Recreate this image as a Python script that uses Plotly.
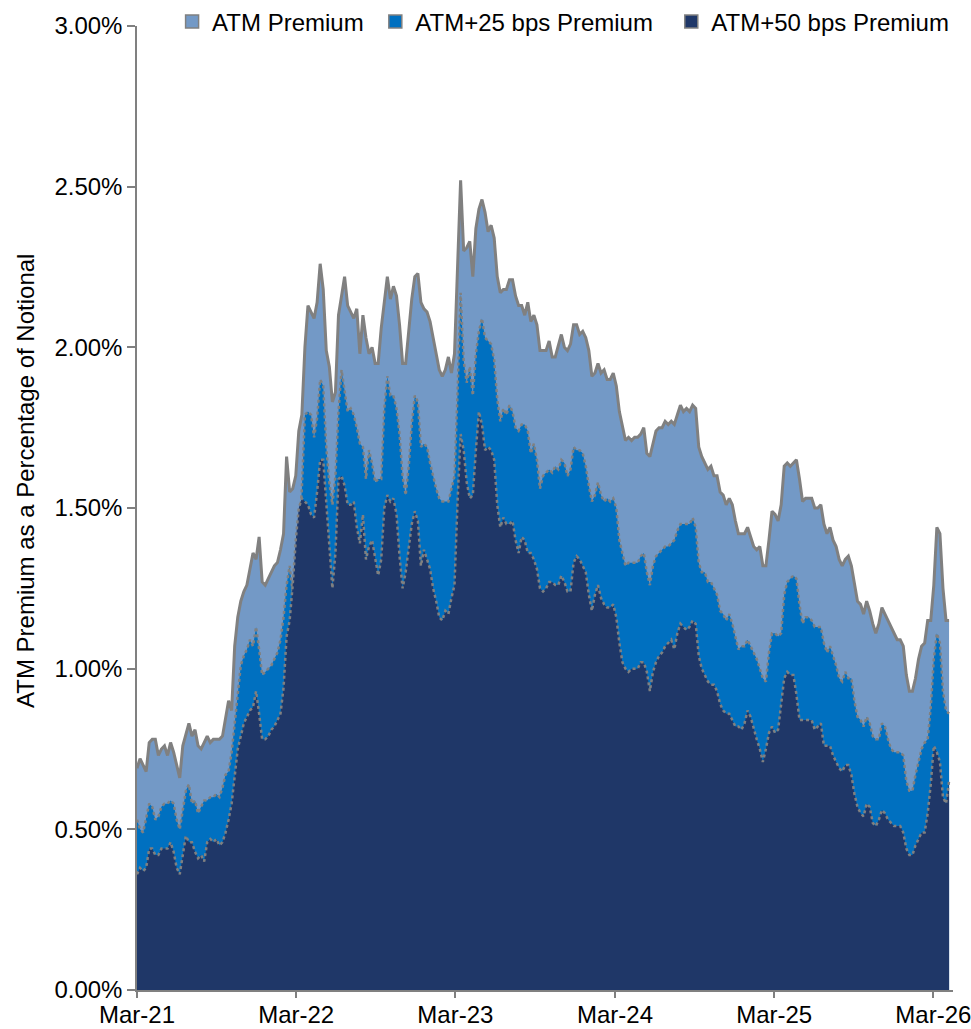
import pandas as pd
import plotly.graph_objects as go

# Weekly observation dates
dates = pd.date_range("2021-03-01", periods=267, freq="7D")

# Premium as % of notional
atm_premium = [
    0.69, 0.72, 0.70, 0.68, 0.77, 0.78, 0.78, 0.73, 0.75, 0.76,
    0.73, 0.77, 0.74, 0.70, 0.66, 0.76, 0.80, 0.83, 0.79, 0.81,
    0.76, 0.75, 0.77, 0.79, 0.77, 0.78, 0.78, 0.78, 0.79, 0.85,
    0.90, 0.87, 1.07, 1.16, 1.21, 1.24, 1.26, 1.31, 1.36, 1.34,
    1.41, 1.27, 1.26, 1.28, 1.30, 1.32, 1.33, 1.37, 1.42, 1.66,
    1.55, 1.56, 1.60, 1.74, 1.79, 2.00, 2.13, 2.11, 2.09, 2.14,
    2.26, 2.18, 1.99, 1.94, 1.83, 1.86, 2.10, 2.16, 2.22, 2.13,
    2.11, 2.09, 2.12, 1.98, 2.10, 2.03, 1.98, 2.00, 1.95, 1.95,
    2.06, 2.15, 2.22, 2.15, 2.19, 2.16, 2.07, 1.95, 1.95, 2.05,
    2.15, 2.22, 2.23, 2.14, 2.12, 2.11, 2.08, 2.03, 1.98, 1.93,
    1.91, 1.93, 1.97, 1.92, 1.98, 2.25, 2.52, 2.30, 2.31, 2.33,
    2.22, 2.37, 2.43, 2.46, 2.42, 2.36, 2.38, 2.34, 2.22, 2.17,
    2.18, 2.18, 2.21, 2.21, 2.16, 2.13, 2.13, 2.10, 2.14, 2.08,
    2.10, 2.07, 1.99, 1.99, 1.99, 2.02, 1.97, 1.97, 2.01, 2.04,
    2.00, 1.99, 2.01, 2.07, 2.07, 2.04, 2.05, 2.03, 1.99, 1.91,
    1.92, 1.95, 1.92, 1.93, 1.90, 1.90, 1.92, 1.88, 1.80, 1.75,
    1.71, 1.72, 1.71, 1.72, 1.72, 1.73, 1.75, 1.67, 1.66, 1.70,
    1.74, 1.75, 1.75, 1.77, 1.76, 1.77, 1.76, 1.79, 1.82, 1.80,
    1.81, 1.80, 1.82, 1.81, 1.69, 1.66, 1.64, 1.62, 1.63, 1.60,
    1.60, 1.55, 1.54, 1.51, 1.53, 1.51, 1.46, 1.42, 1.42, 1.42,
    1.44, 1.41, 1.38, 1.37, 1.38, 1.32, 1.32, 1.40, 1.49, 1.48,
    1.46, 1.51, 1.63, 1.64, 1.63, 1.64, 1.65, 1.59, 1.52, 1.53,
    1.53, 1.53, 1.50, 1.50, 1.51, 1.45, 1.42, 1.44, 1.40, 1.38,
    1.34, 1.32, 1.34, 1.35, 1.32, 1.26, 1.21, 1.20, 1.17, 1.21,
    1.18, 1.14, 1.11, 1.14, 1.19, 1.17, 1.15, 1.13, 1.11, 1.09,
    1.09, 1.07, 0.98, 0.93, 0.93, 0.97, 1.03, 1.07, 1.08, 1.15,
    1.15, 1.26, 1.44, 1.42, 1.25, 1.15, 1.15,
]

atm_25_premium = [
    0.53, 0.50, 0.49, 0.53, 0.58, 0.57, 0.53, 0.54, 0.57, 0.58,
    0.58, 0.59, 0.58, 0.53, 0.50, 0.56, 0.62, 0.64, 0.58, 0.59,
    0.55, 0.57, 0.59, 0.59, 0.60, 0.60, 0.61, 0.60, 0.63, 0.67,
    0.68, 0.74, 0.82, 0.92, 1.01, 1.04, 1.06, 1.09, 1.07, 1.13,
    1.06, 0.98, 0.99, 1.00, 1.01, 1.03, 1.05, 1.09, 1.16, 1.26,
    1.32, 1.24, 1.29, 1.40, 1.56, 1.79, 1.80, 1.79, 1.72, 1.78,
    1.90, 1.88, 1.69, 1.58, 1.51, 1.60, 1.80, 1.93, 1.87, 1.80,
    1.81, 1.79, 1.75, 1.70, 1.69, 1.59, 1.68, 1.64, 1.58, 1.59,
    1.59, 1.81, 1.91, 1.85, 1.85, 1.81, 1.73, 1.60, 1.54, 1.63,
    1.76, 1.85, 1.83, 1.69, 1.70, 1.69, 1.64, 1.60, 1.56, 1.53,
    1.52, 1.52, 1.52, 1.56, 1.60, 1.86, 2.17, 1.96, 1.89, 1.94,
    1.85, 1.98, 2.05, 2.09, 2.03, 2.02, 2.01, 1.96, 1.84, 1.77,
    1.81, 1.79, 1.82, 1.80, 1.75, 1.74, 1.76, 1.76, 1.74, 1.67,
    1.70, 1.65, 1.56, 1.60, 1.61, 1.62, 1.61, 1.63, 1.62, 1.65,
    1.64, 1.60, 1.62, 1.69, 1.68, 1.68, 1.67, 1.63, 1.57, 1.52,
    1.54, 1.58, 1.54, 1.52, 1.53, 1.52, 1.53, 1.50, 1.40, 1.36,
    1.32, 1.33, 1.33, 1.33, 1.33, 1.35, 1.36, 1.30, 1.26, 1.32,
    1.35, 1.36, 1.37, 1.38, 1.38, 1.39, 1.40, 1.43, 1.45, 1.45,
    1.45, 1.45, 1.47, 1.44, 1.33, 1.30, 1.30, 1.27, 1.27, 1.25,
    1.23, 1.18, 1.17, 1.15, 1.17, 1.14, 1.10, 1.06, 1.07, 1.07,
    1.09, 1.07, 1.05, 1.03, 1.00, 0.97, 0.96, 1.05, 1.11, 1.11,
    1.10, 1.11, 1.23, 1.27, 1.28, 1.29, 1.28, 1.20, 1.14, 1.16,
    1.16, 1.15, 1.13, 1.13, 1.13, 1.08, 1.05, 1.07, 1.04, 1.01,
    0.97, 0.96, 0.99, 0.97, 0.97, 0.90, 0.85, 0.84, 0.82, 0.85,
    0.83, 0.79, 0.78, 0.78, 0.83, 0.82, 0.78, 0.75, 0.74, 0.74,
    0.74, 0.73, 0.65, 0.62, 0.62, 0.67, 0.71, 0.75, 0.77, 0.78,
    0.88, 1.03, 1.11, 1.08, 0.93, 0.87, 0.86,
]

atm_50_premium = [
    0.36, 0.38, 0.37, 0.38, 0.44, 0.44, 0.42, 0.42, 0.44, 0.44,
    0.44, 0.46, 0.43, 0.38, 0.36, 0.42, 0.48, 0.46, 0.46, 0.43,
    0.41, 0.42, 0.40, 0.46, 0.47, 0.46, 0.47, 0.45, 0.46, 0.49,
    0.53, 0.58, 0.67, 0.75, 0.79, 0.83, 0.85, 0.87, 0.88, 0.93,
    0.86, 0.78, 0.78, 0.79, 0.81, 0.82, 0.84, 0.86, 0.94, 1.10,
    1.15, 1.26, 1.40, 1.50, 1.53, 1.52, 1.51, 1.48, 1.47, 1.55,
    1.65, 1.65, 1.52, 1.36, 1.25, 1.36, 1.59, 1.60, 1.57, 1.51,
    1.51, 1.52, 1.44, 1.39, 1.48, 1.34, 1.38, 1.40, 1.35, 1.29,
    1.34, 1.50, 1.54, 1.52, 1.53, 1.48, 1.35, 1.25, 1.30, 1.37,
    1.45, 1.49, 1.46, 1.32, 1.37, 1.34, 1.31, 1.25, 1.21, 1.16,
    1.15, 1.18, 1.17, 1.22, 1.26, 1.52, 1.73, 1.68, 1.58, 1.53,
    1.54, 1.68, 1.80, 1.76, 1.68, 1.69, 1.68, 1.65, 1.51, 1.44,
    1.47, 1.45, 1.45, 1.46, 1.40, 1.36, 1.41, 1.40, 1.36, 1.36,
    1.34, 1.31, 1.25, 1.24, 1.25, 1.27, 1.27, 1.26, 1.26, 1.29,
    1.27, 1.24, 1.24, 1.33, 1.35, 1.34, 1.32, 1.30, 1.23, 1.18,
    1.23, 1.26, 1.22, 1.20, 1.19, 1.19, 1.20, 1.16, 1.08, 1.02,
    1.00, 0.99, 1.00, 1.00, 1.00, 1.02, 1.02, 0.99, 0.93, 0.99,
    1.02, 1.04, 1.05, 1.07, 1.08, 1.09, 1.06, 1.11, 1.14, 1.13,
    1.12, 1.13, 1.15, 1.14, 1.04, 1.00, 0.98, 0.96, 0.95, 0.95,
    0.93, 0.89, 0.87, 0.86, 0.86, 0.84, 0.82, 0.82, 0.81, 0.83,
    0.87, 0.85, 0.81, 0.78, 0.75, 0.71, 0.75, 0.80, 0.82, 0.80,
    0.81, 0.89, 0.97, 0.99, 0.98, 0.98, 0.92, 0.84, 0.84, 0.84,
    0.84, 0.84, 0.81, 0.82, 0.83, 0.76, 0.76, 0.76, 0.73, 0.71,
    0.69, 0.68, 0.70, 0.70, 0.67, 0.61, 0.57, 0.55, 0.54, 0.58,
    0.57, 0.52, 0.51, 0.53, 0.56, 0.55, 0.53, 0.52, 0.51, 0.51,
    0.51, 0.49, 0.44, 0.42, 0.42, 0.45, 0.47, 0.49, 0.49, 0.55,
    0.64, 0.76, 0.74, 0.71, 0.60, 0.58, 0.65,
]

series_names = ["ATM Premium", "ATM+25 bps Premium", "ATM+50 bps Premium"]
series_values = [atm_premium, atm_25_premium, atm_50_premium]
fill_colors = ["#7399C6", "#0070C0", "#1F3768"]
line_dashes = ["solid", "dot", "dot"]
line_widths = [3, 2.5, 2.5]
# extra spacing after each legend label
legend_pad = ["\u00a0", "\u00a0\u00a0", ""]

GRAY = "#808080"
FONT = "Liberation Sans, Arial, sans-serif"
FS = 24

fig = go.Figure()
for name, values, fc, dash, lw in zip(series_names, series_values,
                                      fill_colors, line_dashes, line_widths):
    fig.add_trace(go.Scatter(
        x=dates, y=values, name=name, mode="lines",
        fill="tozeroy", fillcolor=fc,
        line=dict(color=GRAY, width=lw, dash=dash),
        showlegend=False, hoverinfo="x+y",
    ))

# Legend entries drawn as small squares
for name, fc, pad in zip(series_names, fill_colors, legend_pad):
    fig.add_trace(go.Scatter(
        x=[None], y=[None], name=name + pad, mode="markers",
        marker=dict(symbol="square", size=13, color=fc,
                    line=dict(color=GRAY, width=1.5)),
        showlegend=True,
    ))

fig.update_layout(
    width=971, height=1029,
    margin=dict(l=137, r=18, t=0, b=39, autoexpand=False),
    paper_bgcolor="white", plot_bgcolor="white",
    font=dict(family=FONT, size=FS, color="black"),
    legend=dict(
        orientation="h", x=0.043, xanchor="left", y=0.978, yanchor="middle",
        font=dict(size=FS), itemwidth=30, tracegroupgap=0,
        bgcolor="rgba(0,0,0,0)",
    ),
    xaxis=dict(
        type="date", automargin=False,
        range=["2021-03-01", "2026-04-15"],
        tick0="2021-03-01", dtick="M12", tickformat="%b-%y",
        showgrid=False, zeroline=False,
        showline=True, linecolor=GRAY, linewidth=1.5,
        ticks="outside", ticklen=6, tickcolor=GRAY, tickwidth=1.5,
        ticklabelstandoff=-4, ticklabeloverflow="allow",
        tickfont=dict(size=FS),
    ),
    yaxis=dict(
        domain=[0, 964 / 990], automargin=False,
        range=[0, 3], dtick=0.5, tickformat=".2f", ticksuffix="%",
        showgrid=False, zeroline=False,
        showline=True, linecolor=GRAY, linewidth=1.5,
        ticks="outside", ticklen=8, tickcolor=GRAY, tickwidth=1.5,
        tickfont=dict(size=FS),
    ),
    annotations=[dict(
        text="ATM Premium as a Percentage of Notional",
        textangle=-90, xref="paper", yref="paper",
        x=(25 - 137) / 816, y=(990 - 481) / 990,
        xanchor="center", yanchor="middle", showarrow=False,
        font=dict(size=FS, color="black"),
    )],
)

fig.write_html("out.html")
